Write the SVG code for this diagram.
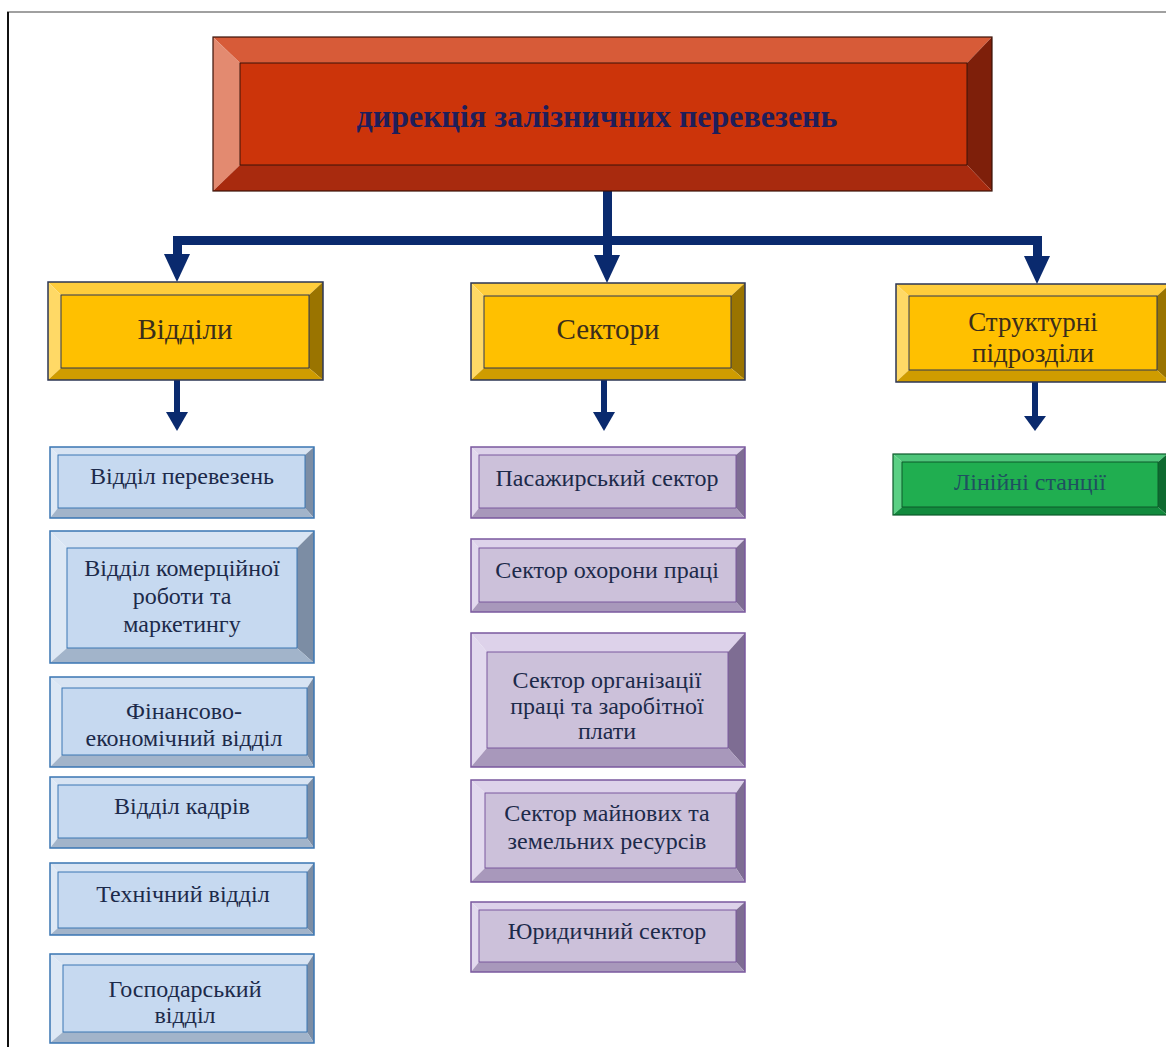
<svg xmlns="http://www.w3.org/2000/svg" width="1166" height="1047" viewBox="0 0 1166 1047">
<style>
text{font-family:"Liberation Serif","Times New Roman","DejaVu Serif",serif;text-anchor:middle}
.r .t{fill:#d75b38}.r .l{fill:#e38a70}.r .rt{fill:#7e1f0a}.r .b{fill:#a82a0e}.r .c{fill:#cc340a}.r .o{fill:none;stroke:#3a1208;stroke-width:1.2}
.g .t{fill:#ffcd3c}.g .l{fill:#ffd966}.g .rt{fill:#9a7400}.g .b{fill:#cf9c00}.g .c{fill:#ffc000}.g .o{fill:none;stroke:#2c3654;stroke-width:1.5}
.u .t{fill:#d8e4f3}.u .l{fill:#dde8f5}.u .rt{fill:#7c8da4}.u .b{fill:#a2b4ca}.u .c{fill:#c6d9f0}.u .o{fill:none;stroke:#3a76b3;stroke-width:1.5}
.p .t{fill:#ddd2ea}.p .l{fill:#e2d9ee}.p .rt{fill:#7e6d93}.p .b{fill:#a898bb}.p .c{fill:#ccc1da}.p .o{fill:none;stroke:#7a589e;stroke-width:1.5}
.n .t{fill:#4ec57a}.n .l{fill:#5bd084}.n .rt{fill:#0e6a30}.n .b{fill:#128a3d}.n .c{fill:#20ae50}.n .o{fill:none;stroke:#0d5a2a;stroke-width:1.2}
.in{fill:none;stroke-width:1}
.r .in{stroke:#3a1208}.g .in{stroke:#2c3654}.u .in{stroke:#3a76b3}.p .in{stroke:#7a589e}.n .in{stroke:#0d5a2a}
.tt{font-size:32px;font-weight:bold;fill:#1e1e5a}
.tg{font-size:29px;fill:#3b2e1a}
.tg2{font-size:27px;fill:#3b2e1a}
.tb{font-size:24px;fill:#1c2a4a}
.tn{font-size:24px;fill:#1f5060}
.ar{fill:#0a2a6e}
</style>
<rect x="0" y="0" width="1166" height="1047" fill="#ffffff"/>
<line x1="7" y1="12" x2="1166" y2="12" stroke="#808080" stroke-width="1.5"/>
<line x1="8" y1="12" x2="8" y2="1047" stroke="#111111" stroke-width="2"/>

<g id="connectors">
<rect class="ar" x="603" y="191" width="9" height="66"/>
<rect class="ar" x="173" y="236" width="868" height="9"/>
<rect class="ar" x="173" y="236" width="9" height="20"/>
<rect class="ar" x="1033" y="236" width="9" height="20"/>
<polygon class="ar" points="164,254 190,254 177,282"/>
<polygon class="ar" points="594,255 620,255 607,283"/>
<polygon class="ar" points="1024,256 1050,256 1037,284"/>
<rect class="ar" x="174" y="380" width="6" height="34"/>
<polygon class="ar" points="166,412 188,412 177,431"/>
<rect class="ar" x="601" y="380" width="6" height="34"/>
<polygon class="ar" points="593,412 615,412 604,431"/>
<rect class="ar" x="1032" y="382" width="6" height="36"/>
<polygon class="ar" points="1024,416 1046,416 1035,431"/>
</g>

<g id="top" class="r">
<polygon class="t" points="213,37 992,37 967,63 240,63"/>
<polygon class="l" points="213,37 240,63 240,165 213,191"/>
<polygon class="rt" points="992,37 992,191 967,165 967,63"/>
<polygon class="b" points="213,191 240,165 967,165 992,191"/>
<rect class="c" x="240" y="63" width="727" height="102"/>
<rect class="in" x="240" y="63" width="727" height="102"/>
<rect class="o" x="213" y="37" width="779" height="154"/>
<text class="tt" x="597" y="127">дирекція залізничних перевезень</text>
</g>

<g id="viddily" class="g">
<polygon class="t" points="48,282 323,282 309,295 61,295"/>
<polygon class="l" points="48,282 61,295 61,368 48,380"/>
<polygon class="rt" points="323,282 323,380 309,368 309,295"/>
<polygon class="b" points="48,380 61,368 309,368 323,380"/>
<rect class="c" x="61" y="295" width="248" height="73"/>
<rect class="in" x="61" y="295" width="248" height="73"/>
<rect class="o" x="48" y="282" width="275" height="98"/>
<text class="tg" x="185" y="339">Відділи</text>
</g>

<g id="sektory" class="g">
<polygon class="t" points="471,283 745,283 731,296 484,296"/>
<polygon class="l" points="471,283 484,296 484,368 471,380"/>
<polygon class="rt" points="745,283 745,380 731,368 731,296"/>
<polygon class="b" points="471,380 484,368 731,368 745,380"/>
<rect class="c" x="484" y="296" width="247" height="72"/>
<rect class="in" x="484" y="296" width="247" height="72"/>
<rect class="o" x="471" y="283" width="274" height="97"/>
<text class="tg" x="608" y="339">Сектори</text>
</g>

<g id="strukturni" class="g">
<polygon class="t" points="896,284 1170,284 1157,296 909,296"/>
<polygon class="l" points="896,284 909,296 909,370 896,382"/>
<polygon class="rt" points="1170,284 1170,382 1157,370 1157,296"/>
<polygon class="b" points="896,382 909,370 1157,370 1170,382"/>
<rect class="c" x="909" y="296" width="248" height="74"/>
<rect class="in" x="909" y="296" width="248" height="74"/>
<rect class="o" x="896" y="284" width="274" height="98"/>
<text class="tg2" x="1033" y="331"><tspan x="1033" y="331">Структурні</tspan><tspan x="1033" y="362">підрозділи</tspan></text>
</g>

<g id="liniini" class="n">
<polygon class="t" points="893,454 1167,454 1158,462 902,462"/>
<polygon class="l" points="893,454 902,462 902,507 893,515"/>
<polygon class="rt" points="1167,454 1167,515 1158,507 1158,462"/>
<polygon class="b" points="893,515 902,507 1158,507 1167,515"/>
<rect class="c" x="902" y="462" width="256" height="45"/>
<rect class="in" x="902" y="462" width="256" height="45"/>
<rect class="o" x="893" y="454" width="274" height="61"/>
<text class="tn" x="1030" y="490">Лінійні станції</text>
</g>

<g id="b1" class="u">
<polygon class="t" points="50,447 314,447 305,455 58,455"/>
<polygon class="l" points="50,447 58,455 58,508 50,518"/>
<polygon class="rt" points="314,447 314,518 305,508 305,455"/>
<polygon class="b" points="50,518 58,508 305,508 314,518"/>
<rect class="c" x="58" y="455" width="247" height="53"/>
<rect class="in" x="58" y="455" width="247" height="53"/>
<rect class="o" x="50" y="447" width="264" height="71"/>
<text class="tb" x="182" y="484">Відділ перевезень</text>
</g>

<g id="b2" class="u">
<polygon class="t" points="50,531 314,531 297,548 67,548"/>
<polygon class="l" points="50,531 67,548 67,648 50,663"/>
<polygon class="rt" points="314,531 314,663 297,648 297,548"/>
<polygon class="b" points="50,663 67,648 297,648 314,663"/>
<rect class="c" x="67" y="548" width="230" height="100"/>
<rect class="in" x="67" y="548" width="230" height="100"/>
<rect class="o" x="50" y="531" width="264" height="132"/>
<text class="tb" x="182" y="576"><tspan x="182" y="576">Відділ комерційної</tspan><tspan x="182" y="604">роботи та</tspan><tspan x="182" y="632">маркетингу</tspan></text>
</g>

<g id="b3" class="u">
<polygon class="t" points="50,677 314,677 307,688 62,688"/>
<polygon class="l" points="50,677 62,688 62,755 50,767"/>
<polygon class="rt" points="314,677 314,767 307,755 307,688"/>
<polygon class="b" points="50,767 62,755 307,755 314,767"/>
<rect class="c" x="62" y="688" width="245" height="67"/>
<rect class="in" x="62" y="688" width="245" height="67"/>
<rect class="o" x="50" y="677" width="264" height="90"/>
<text class="tb" x="184" y="719"><tspan x="184" y="719">Фінансово-</tspan><tspan x="184" y="746">економічний відділ</tspan></text>
</g>

<g id="b4" class="u">
<polygon class="t" points="50,777 314,777 307,785 58,785"/>
<polygon class="l" points="50,777 58,785 58,838 50,848"/>
<polygon class="rt" points="314,777 314,848 307,838 307,785"/>
<polygon class="b" points="50,848 58,838 307,838 314,848"/>
<rect class="c" x="58" y="785" width="249" height="53"/>
<rect class="in" x="58" y="785" width="249" height="53"/>
<rect class="o" x="50" y="777" width="264" height="71"/>
<text class="tb" x="182" y="814">Відділ кадрів</text>
</g>

<g id="b5" class="u">
<polygon class="t" points="50,863 314,863 307,872 58,872"/>
<polygon class="l" points="50,863 58,872 58,928 50,935"/>
<polygon class="rt" points="314,863 314,935 307,928 307,872"/>
<polygon class="b" points="50,935 58,928 307,928 314,935"/>
<rect class="c" x="58" y="872" width="249" height="56"/>
<rect class="in" x="58" y="872" width="249" height="56"/>
<rect class="o" x="50" y="863" width="264" height="72"/>
<text class="tb" x="183" y="902">Технічний відділ</text>
</g>

<g id="b6" class="u">
<polygon class="t" points="50,954 314,954 307,965 63,965"/>
<polygon class="l" points="50,954 63,965 63,1032 50,1043"/>
<polygon class="rt" points="314,954 314,1043 307,1032 307,965"/>
<polygon class="b" points="50,1043 63,1032 307,1032 314,1043"/>
<rect class="c" x="63" y="965" width="244" height="67"/>
<rect class="in" x="63" y="965" width="244" height="67"/>
<rect class="o" x="50" y="954" width="264" height="89"/>
<text class="tb" x="185" y="997"><tspan x="185" y="997">Господарський</tspan><tspan x="185" y="1023">відділ</tspan></text>
</g>

<g id="p1" class="p">
<polygon class="t" points="471,447 745,447 736,455 479,455"/>
<polygon class="l" points="471,447 479,455 479,508 471,518"/>
<polygon class="rt" points="745,447 745,518 736,508 736,455"/>
<polygon class="b" points="471,518 479,508 736,508 745,518"/>
<rect class="c" x="479" y="455" width="257" height="53"/>
<rect class="in" x="479" y="455" width="257" height="53"/>
<rect class="o" x="471" y="447" width="274" height="71"/>
<text class="tb" x="607" y="486">Пасажирський сектор</text>
</g>

<g id="p2" class="p">
<polygon class="t" points="471,539 745,539 736,548 479,548"/>
<polygon class="l" points="471,539 479,548 479,602 471,612"/>
<polygon class="rt" points="745,539 745,612 736,602 736,548"/>
<polygon class="b" points="471,612 479,602 736,602 745,612"/>
<rect class="c" x="479" y="548" width="257" height="54"/>
<rect class="in" x="479" y="548" width="257" height="54"/>
<rect class="o" x="471" y="539" width="274" height="73"/>
<text class="tb" x="607" y="578">Сектор охорони праці</text>
</g>

<g id="p3" class="p">
<polygon class="t" points="471,633 745,633 728,652 487,652"/>
<polygon class="l" points="471,633 487,652 487,748 471,767"/>
<polygon class="rt" points="745,633 745,767 728,748 728,652"/>
<polygon class="b" points="471,767 487,748 728,748 745,767"/>
<rect class="c" x="487" y="652" width="241" height="96"/>
<rect class="in" x="487" y="652" width="241" height="96"/>
<rect class="o" x="471" y="633" width="274" height="134"/>
<text class="tb" x="607" y="688"><tspan x="607" y="688">Сектор організації</tspan><tspan x="607" y="714">праці та заробітної</tspan><tspan x="607" y="739">плати</tspan></text>
</g>

<g id="p4" class="p">
<polygon class="t" points="471,780 745,780 736,793 485,793"/>
<polygon class="l" points="471,780 485,793 485,868 471,882"/>
<polygon class="rt" points="745,780 745,882 736,868 736,793"/>
<polygon class="b" points="471,882 485,868 736,868 745,882"/>
<rect class="c" x="485" y="793" width="251" height="75"/>
<rect class="in" x="485" y="793" width="251" height="75"/>
<rect class="o" x="471" y="780" width="274" height="102"/>
<text class="tb" x="607" y="821"><tspan x="607" y="821">Сектор майнових та</tspan><tspan x="607" y="849">земельних ресурсів</tspan></text>
</g>

<g id="p5" class="p">
<polygon class="t" points="471,902 745,902 736,910 479,910"/>
<polygon class="l" points="471,902 479,910 479,962 471,972"/>
<polygon class="rt" points="745,902 745,972 736,962 736,910"/>
<polygon class="b" points="471,972 479,962 736,962 745,972"/>
<rect class="c" x="479" y="910" width="257" height="52"/>
<rect class="in" x="479" y="910" width="257" height="52"/>
<rect class="o" x="471" y="902" width="274" height="70"/>
<text class="tb" x="607" y="939">Юридичний сектор</text>
</g>
</svg>
